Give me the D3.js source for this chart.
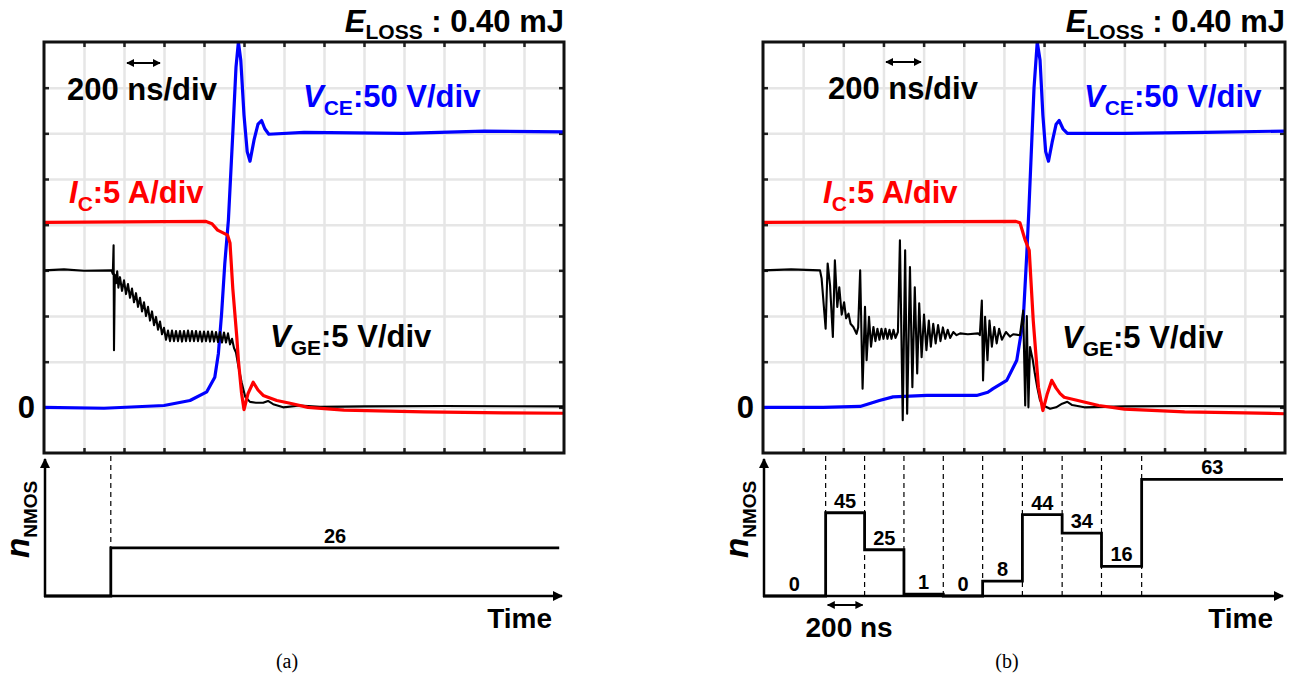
<!DOCTYPE html>
<html>
<head>
<meta charset="utf-8">
<title>Turn-off waveforms</title>
<script src="https://d3js.org/d3.v7.min.js"></script>
<style>
  body { margin: 0; background: #fff; }
  text { font-family: "Liberation Sans", Arial, sans-serif; font-weight: bold; }
  .cap { font-family: "Liberation Serif", "Times New Roman", serif; font-weight: normal; }
</style>
</head>
<body>
<svg id="chart" width="1294" height="677"></svg>
<script>
// time in divisions (200 ns/div), values in divisions above zero
const vceA = [[0,0.0],[1.5,-0.02],[3.0,0.04],[3.65,0.15],[4.07,0.34],[4.27,0.66],[4.36,1.18],[4.44,2.05],[4.52,3.15],[4.61,4.1],
  [4.72,6.0],[4.8,7.45],[4.86,8.0],[4.92,7.6],[5.0,6.4],[5.08,5.6],[5.15,5.39],[5.25,5.85],[5.35,6.2],[5.44,6.28],[5.52,6.1],
  [5.62,5.98],[6.5,6.02],[9,6.0],[11,6.05],[13,6.03]];
const icA = [[0,4.05],[4.05,4.07],[4.2,4.02],[4.34,3.88],[4.59,3.77],[4.65,3.6],[4.72,2.6],[4.82,1.54],[4.86,1.03],[4.94,0.3],
  [5.0,-0.05],[5.1,0.3],[5.23,0.55],[5.35,0.38],[5.48,0.26],[5.82,0.15],[6.15,0.09],[6.6,0.0],[7.5,-0.06],[9.5,-0.1],[11.5,-0.12],[13,-0.13]];
const vgeA = [[0,3.0],[0.5,3.02],[1.0,2.99],[1.69,3.0],[1.72,2.92],[1.74,3.55],[1.75,1.25],[1.77,2.9],[1.8,2.72],[1.83,2.98],
  [1.86,2.62],[1.9,2.85],[1.95,2.55],[2.0,2.78],[2.05,2.48],[2.1,2.7],[2.15,2.4],[2.2,2.6],[2.25,2.3],[2.3,2.5],[2.35,2.2],
  [2.4,2.4],[2.45,2.1],[2.5,2.3],[2.55,2.0],[2.6,2.2],[2.65,1.9],[2.7,2.1],[2.75,1.8],[2.8,1.98],[2.85,1.7],[2.9,1.88],
  [2.95,1.6],[3.0,1.74],[3.05,1.48],[3.1,1.68],[3.15,1.45],[3.2,1.68],[3.25,1.45],[3.3,1.67],[3.35,1.45],[3.4,1.67],
  [3.45,1.44],[3.5,1.67],[3.55,1.45],[3.6,1.68],[3.65,1.45],[3.7,1.67],[3.75,1.45],[3.8,1.67],[3.85,1.45],[3.9,1.66],
  [3.95,1.44],[4.0,1.66],[4.05,1.45],[4.1,1.66],[4.15,1.44],[4.2,1.66],[4.25,1.44],[4.3,1.65],[4.35,1.43],[4.4,1.65],
  [4.45,1.42],[4.5,1.64],[4.55,1.42],[4.6,1.62],[4.65,1.38],[4.7,1.5],[4.75,1.3],[4.8,1.2],[4.86,0.9],[4.94,0.55],
  [5.03,0.23],[5.15,0.12],[5.3,0.1],[5.48,0.1],[5.6,0.14],[5.73,0.07],[5.98,0.0],[6.4,0.04],[6.9,0.01],[8,0.02],[10,0.03],[13,0.02]];

const vceB = [[0,0.0],[1.5,0.0],[2.42,0.02],[2.9,0.15],[3.24,0.23],[4.08,0.26],[5.32,0.26],[5.6,0.33],[5.73,0.41],[6.07,0.59],
  [6.32,1.03],[6.48,1.9],[6.57,3.37],[6.62,4.3],[6.75,7.0],[6.83,8.0],[6.9,7.6],[6.97,6.4],[7.04,5.6],[7.11,5.39],[7.2,5.8],
  [7.3,6.2],[7.375,6.28],[7.47,6.1],[7.58,6.0],[9,6.0],[11,6.02],[13,6.05]];
const icB = [[0,4.05],[6.3,4.07],[6.4,4.04],[6.53,3.66],[6.63,3.44],[6.73,1.9],[6.86,0.44],[6.97,-0.07],[7.08,0.3],[7.19,0.59],
  [7.3,0.42],[7.4,0.3],[7.5,0.22],[7.84,0.15],[8.36,0.04],[9,-0.04],[10.5,-0.1],[12,-0.12],[13,-0.14]];
const vgeB = [[0,3.0],[0.7,3.02],[1.42,3.0],[1.46,2.82],[1.56,1.72],[1.61,3.15],[1.67,2.67],[1.74,1.54],[1.79,3.22],[1.85,2.2],
  [1.9,2.63],[1.96,2.03],[2.02,2.3],[2.07,1.95],[2.13,2.05],[2.18,1.83],[2.25,1.76],[2.33,1.61],[2.37,1.75],[2.42,3.0],
  [2.48,0.41],[2.54,2.2],[2.58,1.03],[2.64,1.98],[2.69,1.33],[2.75,1.76],[2.8,1.45],[2.85,1.72],[2.9,1.48],[2.95,1.72],
  [3.0,1.5],[3.05,1.72],[3.1,1.5],[3.15,1.7],[3.2,1.5],[3.25,1.7],[3.3,1.52],[3.36,1.65],[3.41,3.66],[3.48,-0.28],[3.54,3.44],
  [3.59,-0.14],[3.66,3.07],[3.72,0.44],[3.78,2.63],[3.84,0.74],[3.89,2.28],[3.95,1.1],[4.01,2.03],[4.07,1.25],[4.13,1.9],
  [4.18,1.33],[4.24,1.83],[4.3,1.4],[4.36,1.8],[4.42,1.45],[4.48,1.75],[4.54,1.5],[4.6,1.7],[4.66,1.52],[4.74,1.65],[4.82,1.58],
  [4.91,1.62],[5.1,1.6],[5.36,1.62],[5.4,1.58],[5.45,2.34],[5.48,0.59],[5.53,1.98],[5.59,1.03],[5.64,1.9],[5.7,1.33],[5.76,1.76],
  [5.82,1.4],[5.88,1.72],[5.95,1.48],[6.05,1.65],[6.15,1.55],[6.23,1.6],[6.4,1.58],[6.48,2.12],[6.53,0.04],[6.57,2.0],[6.61,0.0],
  [6.65,1.32],[6.72,1.03],[6.77,0.74],[6.83,0.44],[6.9,0.15],[6.98,0.04],[7.15,-0.03],[7.3,0.0],[7.45,0.08],[7.58,0.12],
  [7.7,0.05],[8.0,0.0],[9.0,0.02],[10.5,0.03],[13,0.02]];

// n_NMOS steps: switching times (div) and counts
const stepTimesA = [0, 1.67, 12.88];
const stepCountsA = [0, 26, 26];
const labelCountsA = [null, 26];
const stepTimesB = [0, 1.56, 2.53, 3.51, 4.49, 5.47, 6.46, 7.45, 8.43, 9.43, 12.95];
const stepCountsB = [0, 45, 25, 1, 0, 8, 44, 34, 16, 63, 63];
const labelCountsB = [0, 45, 25, 1, 0, 8, 44, 34, 16, 63];

const panels = [
  {left: 44, right: 564, vce: vceA, ic: icA, vge: vgeA, times: stepTimesA, counts: stepCountsA, labels: labelCountsA,
   dashTop: "step", caption: "(a)", scale200: [23, 100], arrow: [83, 116, 63], vceLab: [259, 107], icLab: [25, 203], vgeLab: [226, 347], ns200: false},
  {left: 763, right: 1285, vce: vceB, ic: icB, vge: vgeB, times: stepTimesB, counts: stepCountsB, labels: labelCountsB,
   dashTop: "axis", caption: "(b)", scale200: [65, 99], arrow: [123, 158, 62], vceLab: [321, 107], icLab: [60, 203], vgeLab: [299, 348], ns200: true}
];

const svg = d3.select("#chart");
const yTop = 42, yBot = 453;
const base = 596;

const defs = svg.append("defs");
defs.append("marker").attr("id", "ah").attr("viewBox", "0 0 10 10").attr("refX", 9).attr("refY", 5)
  .attr("markerWidth", 8).attr("markerHeight", 8).attr("markerUnits", "userSpaceOnUse").attr("orient", "auto-start-reverse")
  .append("path").attr("d", "M0,0 L10,5 L0,10 z").attr("fill", "#000");
defs.append("marker").attr("id", "ahBig").attr("viewBox", "0 0 10 10").attr("refX", 9).attr("refY", 5)
  .attr("markerWidth", 11).attr("markerHeight", 10).attr("markerUnits", "userSpaceOnUse").attr("orient", "auto")
  .append("path").attr("d", "M0,0 L10,5 L0,10 z").attr("fill", "#000");

function richText(g, x, y, parts, anchor, color) {
  const t = g.append("text").attr("x", x).attr("y", y).attr("text-anchor", anchor || "start").attr("fill", color || "#000");
  parts.forEach(p => {
    t.append("tspan").text(p.s).attr("font-size", p.size).attr("dy", p.dy || 0)
      .attr("font-style", p.it ? "italic" : null);
  });
  return t;
}

panels.forEach((p, i) => {
  const x = d3.scaleLinear().domain([0, 13]).range([p.left, p.right]);
  const y = d3.scaleLinear().domain([-1, 8]).range([yBot, yTop]);
  const ny = d3.scaleLinear().domain([0, 63]).range([base, base - 63 * 1.85]);
  const g = svg.append("g");
  const h = yBot - yTop, w = p.right - p.left;

  // grid
  g.append("g").attr("transform", `translate(0,${yBot})`)
    .call(d3.axisBottom(x).tickValues(d3.range(1, 13)).tickSize(-h).tickFormat(""))
    .call(a => a.select(".domain").remove())
    .selectAll("line").attr("stroke", "#e6e6e6").attr("stroke-width", 2.5);
  g.append("g").attr("transform", `translate(${p.left},0)`)
    .call(d3.axisLeft(y).tickValues(d3.range(0, 8)).tickSize(-w).tickFormat(""))
    .call(a => a.select(".domain").remove())
    .selectAll("line").attr("stroke", "#e6e6e6").attr("stroke-width", 2.5);

  // edge ticks
  const edges = [
    [d3.axisBottom(x).tickValues(d3.range(1, 13)), `translate(0,${yBot})`],
    [d3.axisTop(x).tickValues(d3.range(1, 13)), `translate(0,${yTop})`],
    [d3.axisLeft(y).tickValues(d3.range(0, 8)), `translate(${p.left},0)`],
    [d3.axisRight(y).tickValues(d3.range(0, 8)), `translate(${p.right},0)`]
  ];
  edges.forEach(([ax, tr]) => {
    g.append("g").attr("transform", tr).call(ax.tickSize(-5).tickFormat(""))
      .call(a => a.select(".domain").remove())
      .selectAll("line").attr("stroke", "#222").attr("stroke-width", 2.5);
  });

  // traces
  const clipId = "clip" + i;
  defs.append("clipPath").attr("id", clipId).append("rect")
    .attr("x", p.left).attr("y", yTop).attr("width", w).attr("height", h);
  const line = d3.line().x(d => x(d[0])).y(d => y(d[1]));
  const tg = g.append("g").attr("clip-path", `url(#${clipId})`);
  tg.append("path").datum(p.vce).attr("d", line).attr("fill", "none").attr("stroke", "#0000ff").attr("stroke-width", 3.2).attr("stroke-linejoin", "round");
  tg.append("path").datum(p.vge).attr("d", line).attr("fill", "none").attr("stroke", "#000").attr("stroke-width", 2.1).attr("stroke-linejoin", "round");
  tg.append("path").datum(p.ic).attr("d", line).attr("fill", "none").attr("stroke", "#ff0000").attr("stroke-width", 3.2).attr("stroke-linejoin", "round");

  // box
  g.append("rect").attr("x", p.left).attr("y", yTop).attr("width", w).attr("height", h)
    .attr("fill", "none").attr("stroke", "#111").attr("stroke-width", 3);

  // texts
  richText(g, p.right, 32, [{s: "E", size: 31, it: true}, {s: "LOSS", size: 21, dy: 7}, {s: " : 0.40 mJ", size: 31, dy: -7}], "end");
  richText(g, p.left + p.scale200[0], p.scale200[1], [{s: "200 ns/div", size: 31}]);
  g.append("line").attr("x1", p.left + p.arrow[0]).attr("x2", p.left + p.arrow[1]).attr("y1", p.arrow[2]).attr("y2", p.arrow[2])
    .attr("stroke", "#000").attr("stroke-width", 2).attr("marker-start", "url(#ah)").attr("marker-end", "url(#ah)");
  richText(g, p.left + p.vceLab[0], p.vceLab[1], [{s: "V", size: 31, it: true}, {s: "CE", size: 21, dy: 8}, {s: ":50 V/div", size: 31, dy: -8}], "start", "#0000ff");
  richText(g, p.left + p.icLab[0], p.icLab[1], [{s: "I", size: 31, it: true}, {s: "C", size: 21, dy: 8}, {s: ":5 A/div", size: 31, dy: -8}], "start", "#ff0000");
  richText(g, p.left + p.vgeLab[0], p.vgeLab[1], [{s: "V", size: 31, it: true}, {s: "GE", size: 21, dy: 8}, {s: ":5 V/div", size: 31, dy: -8}], "start", "#000");
  g.append("text").attr("x", p.left - 9).attr("y", y(0) + 11).attr("text-anchor", "end").attr("font-size", 31).text("0");

  // n_NMOS step plot
  const steps = p.times.map((t, k) => [t, p.counts[k]]);
  const stepLine = d3.line().x(d => x(d[0])).y(d => ny(d[1])).curve(d3.curveStepAfter);
  p.times.slice(1, p.labels.length).forEach((t, k) => {
    const yEnd = p.dashTop === "step" ? ny(p.counts[k + 1]) : base;
    g.append("line").attr("x1", x(t)).attr("x2", x(t)).attr("y1", yBot + 3).attr("y2", yEnd)
      .attr("stroke", "#000").attr("stroke-width", 1.2).attr("stroke-dasharray", "5,4");
  });
  g.append("line").attr("x1", x(0) + 1).attr("x2", x(0) + 1).attr("y1", base + 1).attr("y2", 459)
    .attr("stroke", "#000").attr("stroke-width", 2.5).attr("marker-end", "url(#ahBig)");
  g.append("line").attr("x1", x(0)).attr("x2", x(12.95)).attr("y1", base).attr("y2", base)
    .attr("stroke", "#000").attr("stroke-width", 2.5).attr("marker-end", "url(#ahBig)");
  g.append("path").datum(steps).attr("d", stepLine).attr("fill", "none").attr("stroke", "#000").attr("stroke-width", 2.8);
  p.labels.forEach((c, k) => {
    if (c === null) return;
    const cx = (x(p.times[k]) + x(p.times[k + 1])) / 2;
    g.append("text").attr("x", cx).attr("y", ny(p.counts[k]) - 5).attr("text-anchor", "middle").attr("font-size", 20).text(c);
  });
  richText(g, p.right - 12, 628, [{s: "Time", size: 28}], "end");
  const ylab = g.append("g").attr("transform", `translate(${p.left - 15},558) rotate(-90)`);
  richText(ylab, 0, 0, [{s: "n", size: 33, it: true}, {s: "NMOS", size: 19, dy: 8}]);
  if (p.ns200) {
    g.append("line").attr("x1", x(p.times[1]) + 2).attr("x2", x(p.times[2]) - 2).attr("y1", 605).attr("y2", 605)
      .attr("stroke", "#000").attr("stroke-width", 2).attr("marker-start", "url(#ah)").attr("marker-end", "url(#ah)");
    g.append("text").attr("x", (x(p.times[1]) + x(p.times[2])) / 2 + 4).attr("y", 637).attr("text-anchor", "middle").attr("font-size", 28).text("200 ns");
  }
  g.append("text").attr("class", "cap").attr("x", (p.left + p.right) / 2 - 17).attr("y", 668)
    .attr("text-anchor", "middle").attr("font-size", 20).text(p.caption);
});
</script>
</body>
</html>
